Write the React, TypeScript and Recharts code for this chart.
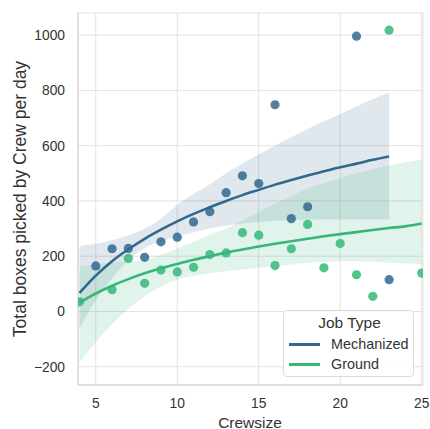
import React from 'react';
import { ComposedChart, Area, Line, Scatter, XAxis, YAxis, CartesianGrid, Legend } from 'recharts';

const BLUE = '#31688e';
const GREEN = '#35b779';
const FONT = '"Liberation Sans", Arial, sans-serif';
const TEXT = '#333333';

// regression grid (Crewsize)
const fitX = [4, 5, 6, 7, 8, 9, 10, 11, 12, 13, 14, 15, 16, 17, 18, 19, 20, 21, 22, 23, 24, 25];
// Mechanized fit and CI (x = 4..23)
const mechFit = [67, 130, 182, 225, 263, 296, 326, 353, 377, 400, 421, 440, 459, 476, 492, 507, 522, 535, 549, 561];
const mechHigh = [236, 245, 258, 275, 300, 335, 385, 425, 460, 500, 535, 568, 600, 630, 660, 688, 715, 742, 768, 791];
const mechLow = [-61, 40, 120, 185, 230, 252, 272, 287, 300, 310, 318, 324, 328, 331, 333, 333, 333, 333, 333, 333];
// Ground fit and CI (x = 4..25)
const groundFit = [32, 65, 93, 117, 138, 156, 172, 187, 200, 213, 224, 235, 245, 254, 263, 272, 280, 287, 295, 302, 308, 318];
const groundHigh = [164, 170, 176, 180, 185, 205, 228, 252, 278, 300, 330, 360, 390, 418, 445, 465, 483, 500, 515, 528, 540, 549];
const groundLow = [-185, -110, -45, 10, 55, 90, 115, 128, 138, 146, 152, 158, 164, 170, 176, 180, 182, 182, 180, 177, 174, 172];

// observed points
const mechX = [5, 6, 7, 8, 9, 10, 11, 12, 13, 14, 15, 16, 17, 18, 21, 23];
const mechY = [165, 227, 228, 196, 252, 269, 324, 361, 430, 491, 463, 748, 336, 379, 996, 115];
const groundX = [4, 6, 7, 8, 9, 10, 11, 12, 13, 14, 15, 16, 17, 18, 19, 20, 21, 22, 23, 25];
const groundY = [35, 79, 192, 102, 150, 143, 160, 206, 212, 285, 276, 166, 227, 315, 158, 246, 133, 55, 1018, 139];

const xTicks = [5, 10, 15, 20, 25];
const yTicks = [-200, 0, 200, 400, 600, 800, 1000];
const seriesNames = ['Mechanized', 'Ground'];

const fitData = fitX.map((x, i) => ({
  x,
  mech: mechFit[i],
  mechBand: mechLow[i] !== undefined ? [mechLow[i], mechHigh[i]] : undefined,
  ground: groundFit[i],
  groundBand: groundLow[i] !== undefined ? [groundLow[i], groundHigh[i]] : undefined,
}));
const mechPoints = mechX.map((x, i) => ({ x, y: mechY[i] }));
const groundPoints = groundX.map((x, i) => ({ x, y: groundY[i] }));

const fmt = (v: number) => String(v).replace('-', '\u2212');

const dot = (color: string) => (props: any) => (
  <circle cx={props.cx} cy={props.cy} r={4.6} fill={color} fillOpacity={0.85} />
);

const LegendBox = () => (
  <div
    style={{
      position: 'relative',
      width: 131,
      height: 67,
      boxSizing: 'border-box',
      border: '1px solid #dcdcdc',
      borderRadius: 4,
      background: 'rgba(255,255,255,0.85)',
      fontFamily: FONT,
      color: TEXT,
    }}
  >
    <div style={{ position: 'absolute', left: 0, width: 131, top: 3, textAlign: 'center', fontSize: 15.5, lineHeight: '18px' }}>Job Type</div>
    {seriesNames.map((name, i) => (
      <div key={name}>
        <div style={{ position: 'absolute', left: 5, top: 32 + i * 20, width: 31, height: 2.6, background: i === 0 ? BLUE : GREEN }} />
        <div style={{ position: 'absolute', left: 47, top: 24 + i * 20, fontSize: 14.4, lineHeight: '18px', whiteSpace: 'nowrap' }}>{name}</div>
      </div>
    ))}
  </div>
);

export default function App() {
  return (
    <div style={{ position: 'absolute', left: 0, top: 0, background: '#fff' }}>
      <ComposedChart
        width={430}
        height={429}
        data={fitData}
        margin={{ top: 13, right: 7, bottom: 0, left: 18 }}
      >
        <CartesianGrid stroke="#e2e2e2" strokeWidth={1} vertical horizontal />
        <XAxis
          type="number"
          dataKey="x"
          domain={[3.91, 25.08]}
          ticks={xTicks}
          allowDataOverflow
          height={44}
          tickLine={false}
          tickSize={0}
          tickMargin={13}
          axisLine={{ stroke: '#d0d0d0' }}
          tick={{ fill: TEXT, fontSize: 13.8, fontFamily: FONT }}
          label={{
            content: () => (
              <text x={250} y={422} textAnchor="middle" dominantBaseline="central" fill={TEXT} fontSize={15.5} fontFamily={FONT}>
                Crewsize
              </text>
            ),
          }}
        />
        <YAxis
          type="number"
          domain={[-266, 1080]}
          ticks={yTicks}
          allowDataOverflow
          width={60}
          tickLine={false}
          tickSize={0}
          tickMargin={13}
          tickFormatter={fmt}
          axisLine={{ stroke: '#d0d0d0' }}
          tick={{ fill: TEXT, fontSize: 13.8, fontFamily: FONT }}
          label={{
            content: () => (
              <text
                x={20}
                y={199}
                transform="rotate(-90, 20, 199)"
                textAnchor="middle"
                dominantBaseline="central"
                fill={TEXT}
                fontSize={17.5}
                fontFamily={FONT}
              >
                Total boxes picked by Crew per day
              </text>
            ),
          }}
        />
        <Area dataKey="mechBand" type="monotone" stroke="none" fill={BLUE} fillOpacity={0.15} isAnimationActive={false} dot={false} activeDot={false} />
        <Area dataKey="groundBand" type="monotone" stroke="none" fill={GREEN} fillOpacity={0.15} isAnimationActive={false} dot={false} activeDot={false} />
        <Line dataKey="mech" type="monotone" stroke={BLUE} strokeWidth={2.6} dot={false} activeDot={false} isAnimationActive={false} />
        <Line dataKey="ground" type="monotone" stroke={GREEN} strokeWidth={2.6} dot={false} activeDot={false} isAnimationActive={false} />
        <Scatter data={mechPoints} dataKey="y" shape={dot(BLUE)} isAnimationActive={false} />
        <Scatter data={groundPoints} dataKey="y" shape={dot(GREEN)} isAnimationActive={false} />
        <Legend
          layout="vertical"
          align="center"
          verticalAlign="middle"
          content={() => <LegendBox />}
          wrapperStyle={{ left: 283, top: 310, width: 131, height: 67 }}
        />
      </ComposedChart>
    </div>
  );
}
